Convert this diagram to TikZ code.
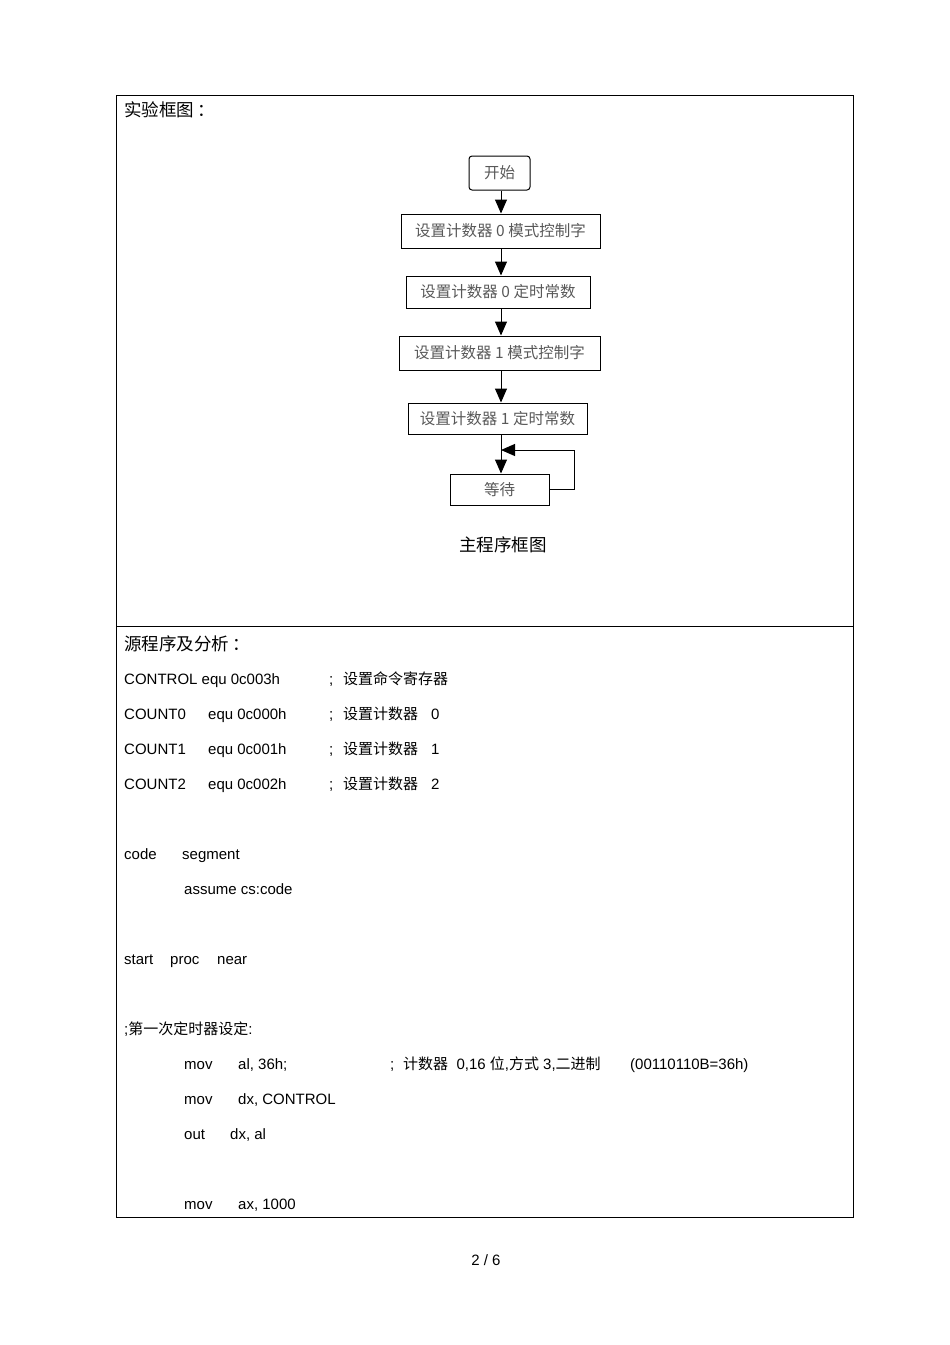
\documentclass[tikz,border=0pt]{standalone}
\usepackage{fontspec}
\setmainfont{Liberation Sans}
\newfontfamily\cjk{Noto Sans CJK SC}
\usetikzlibrary{arrows.meta}
\begin{document}
\begin{tikzpicture}[x=1pt,y=-1pt,
  txt/.style={anchor=base west, inner sep=0pt, font=\fontsize{15}{17}\selectfont},
  head/.style={anchor=base west, inner sep=0pt, font=\cjk\fontsize{17.5}{19}\selectfont},
  fbox/.style={draw, line width=1pt, inner sep=0pt, text=black!65, font=\cjk\fontsize{15.5}{17}\selectfont},
  arr/.style={line width=1pt, -{Triangle[length=14pt,width=12pt]}},
  frame/.style={line width=0.8pt}]
\useasboundingbox (0,0) rectangle (950,1345);
% table frame
\draw[frame] (116,95) rectangle (853,1217);
\draw[frame] (116,626) -- (853,626);
% header 1
\node[head] (h1) at (124,116) {实验框图\,：};
% flowchart
\node[fbox, rounded corners=3pt, minimum width=61pt, minimum height=34pt] (start) at (499.5,173) {开始};
\node[fbox, minimum width=199pt, minimum height=34pt] (b1) at (500.5,231) {设置计数器 0 模式控制字};
\node[fbox, minimum width=184pt, minimum height=32pt] (b2) at (498,292) {设置计数器 0 定时常数};
\node[fbox, minimum width=201pt, minimum height=34pt] (b3) at (499.5,353) {设置计数器 1 模式控制字};
\node[fbox, minimum width=179pt, minimum height=31pt] (b4) at (497.5,418.5) {设置计数器 1 定时常数};
\node[fbox, minimum width=99pt, minimum height=31pt] (wait) at (499.5,489.5) {等待};
\coordinate (lp) at (501,450);
\draw[arr] (start.south -| lp) -- (b1.north -| lp);
\draw[arr] (b1.south -| lp) -- (b2.north -| lp);
\draw[arr] (b2.south -| lp) -- (b3.north -| lp);
\draw[arr] (b3.south -| lp) -- (b4.north -| lp);
\draw[arr] (b4.south -| lp) -- (wait.north -| lp);
\draw[arr] (wait.east) -- ++(24.5,0) |- (lp);
\node[anchor=base, inner sep=0pt, font=\cjk\fontsize{17.5}{19}\selectfont] (cap) at (503,551) {主程序框图};
% header 2
\node[head] (h2) at (124,650) {源程序及分析\,：};
% code lines
\node[txt] (l1a) at (124,684) {CONTROL equ 0c003h};
\node[txt] (l1b) at (329,684) {;};
\node[txt] (l1c) at (343,684) {\cjk 设置命令寄存器};
\node[txt] (l2a) at (124,719) {COUNT0};
\node[txt] (l2b) at (208,719) {equ 0c000h};
\node[txt] (l2c) at (329,719) {;};
\node[txt] (l2d) at (343,719) {\cjk 设置计数器};
\node[txt] (l2e) at (431,719) {0};
\node[txt] (l3a) at (124,754) {COUNT1};
\node[txt] (l3b) at (208,754) {equ 0c001h};
\node[txt] (l3c) at (329,754) {;};
\node[txt] (l3d) at (343,754) {\cjk 设置计数器};
\node[txt] (l3e) at (431,754) {1};
\node[txt] (l4a) at (124,789) {COUNT2};
\node[txt] (l4b) at (208,789) {equ 0c002h};
\node[txt] (l4c) at (329,789) {;};
\node[txt] (l4d) at (343,789) {\cjk 设置计数器};
\node[txt] (l4e) at (431,789) {2};
\node[txt] (l5a) at (124,859) {code};
\node[txt] (l5b) at (182,859) {segment};
\node[txt] (l6) at (184,894) {assume cs:code};
\node[txt] (l7a) at (124,964) {start};
\node[txt] (l7b) at (170,964) {proc};
\node[txt] (l7c) at (217,964) {near};
\node[txt] (l8) at (124,1034) {;{\cjk 第一次定时器设定}:};
\node[txt] (l9a) at (184,1069) {mov};
\node[txt] (l9b) at (238,1069) {al, 36h;};
\node[txt] (l9c) at (390,1069) {;};
\node[txt] (l9d) at (403,1069) {{\cjk 计数器}\ \ 0,16 {\cjk 位},{\cjk 方式} 3,{\cjk 二进制}};
\node[txt] (l9e) at (630,1069) {(00110110B=36h)};
\node[txt] (l10a) at (184,1104) {mov};
\node[txt] (l10b) at (238,1104) {dx, CONTROL};
\node[txt] (l11a) at (184,1139) {out};
\node[txt] (l11b) at (230,1139) {dx, al};
\node[txt] (l12a) at (184,1209) {mov};
\node[txt] (l12b) at (238,1209) {ax, 1000};
% page number
\node[anchor=base, inner sep=0pt, font=\fontsize{15}{17}\selectfont] (pg) at (486,1265) {2 / 6};
\end{tikzpicture}
\end{document}
